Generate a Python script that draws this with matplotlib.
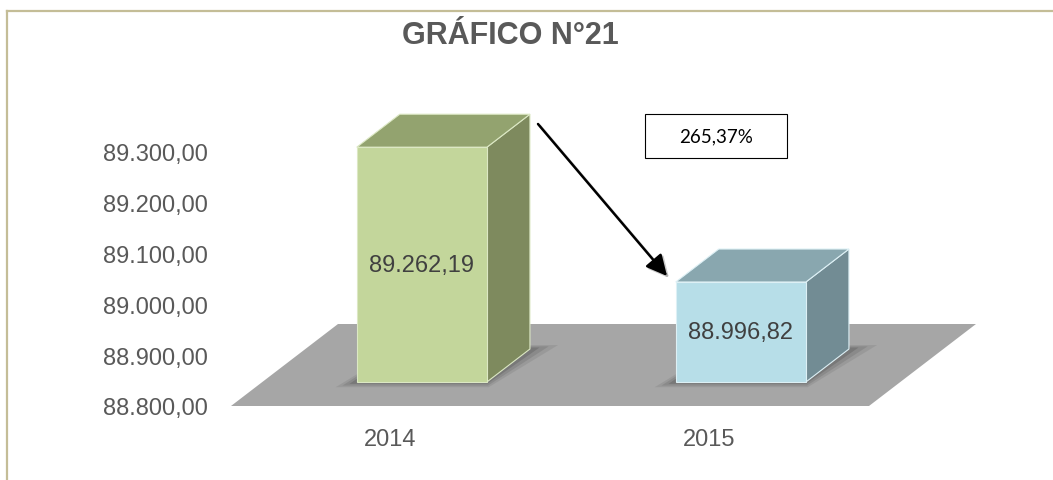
import matplotlib
matplotlib.use("Agg")
import matplotlib.pyplot as plt
from matplotlib.patches import Polygon, Rectangle
from matplotlib.lines import Line2D

# ---- data ----
categories = ['2014', '2015']
values = [89262.19, 88996.82]
value_labels = ['89.262,19', '88.996,82']
yticks = [88800, 88900, 89000, 89100, 89200, 89300]
ytick_labels = ['88.800,00', '88.900,00', '89.000,00', '89.100,00', '89.200,00', '89.300,00']
title = 'GRÁFICO N°21'
change_label = '265,37%'

# ---- styles ----
front_colors = ['#C3D69B', '#B7DEE8']
top_colors = ['#93A36F', '#89A7AF']
side_colors = ['#7E8A5E', '#728C94']
edge_colors = ['#DCE8C4', '#DDF0F5']
floor_color = '#A6A6A6'
text_gray = '#595959'

W, H = 1053, 481
fig = plt.figure(figsize=(W / 100, H / 100), dpi=100)
ax = fig.add_axes([231 / W, (H - 407) / H, 638 / W, 254 / H])
base = yticks[0]
ax.set_xlim(0, len(categories))
ax.set_ylim(base, yticks[-1])

# depth projection (in data units)
ddx = 107 / 319.0
ddy = 82 / (254 / 500.0)
d0, d1 = 0.293, 0.695
hw = 0.204


def P(x, d, v):
    return (x + d * ddx, v + d * ddy)


# floor
floor = Polygon([P(0, 0, base), P(2, 0, base), P(2, 1, base), P(0, 1, base)],
                closed=True, facecolor=floor_color, edgecolor='none', clip_on=False, zorder=1)
ax.add_patch(floor)

for i, (cat, v) in enumerate(zip(categories, values)):
    c = i + 0.5
    # soft shadow on the floor
    for k, (ex, ed, al) in enumerate([(0.045, 0.16, 0.10), (0.03, 0.11, 0.14), (0.015, 0.06, 0.2)]):
        sh = Polygon([P(c - hw - ex, d0 - ed * 0.4, base), P(c + hw + ex * 0.6, d0 - ed * 0.4, base),
                      P(c + hw + ex * 1.6, d1 + ed * 0.3, base), P(c - hw, d1 + ed * 0.3, base)],
                     closed=True, facecolor='#303030', edgecolor='none', alpha=al,
                     clip_on=False, zorder=2)
        ax.add_patch(sh)
    side = Polygon([P(c + hw, d0, base), P(c + hw, d1, base), P(c + hw, d1, v), P(c + hw, d0, v)],
                   closed=True, facecolor=side_colors[i], edgecolor=edge_colors[i], lw=0.8,
                   clip_on=False, zorder=3)
    top = Polygon([P(c - hw, d0, v), P(c + hw, d0, v), P(c + hw, d1, v), P(c - hw, d1, v)],
                  closed=True, facecolor=top_colors[i], edgecolor=edge_colors[i], lw=0.8,
                  clip_on=False, zorder=3)
    front = Polygon([P(c - hw, d0, base), P(c + hw, d0, base), P(c + hw, d0, v), P(c - hw, d0, v)],
                    closed=True, facecolor=front_colors[i], edgecolor=edge_colors[i], lw=0.8,
                    clip_on=False, zorder=4)
    ax.add_patch(side)
    ax.add_patch(top)
    ax.add_patch(front)
    cx, cy = P(c, d0, (base + v) / 2)
    ax.text(cx, cy, value_labels[i], ha='center', va='center', fontsize=17,
            family='Liberation Sans', color='#404040', zorder=5)

ax.set_xticks([i + 0.5 for i in range(len(categories))])
ax.set_xticklabels(categories)
ax.set_yticks(yticks)
ax.set_yticklabels(ytick_labels)
ax.tick_params(axis='y', length=0, pad=16.5, labelsize=17, labelcolor=text_gray)
ax.tick_params(axis='x', length=0, pad=16, labelsize=17, labelcolor=text_gray)
for lab in ax.get_xticklabels() + ax.get_yticklabels():
    lab.set_family('Liberation Sans')
for s in ax.spines.values():
    s.set_visible(False)
ax.patch.set_visible(False)

# title
fig.text(510 / W, 1 - 36 / H, title, ha='center', va='center', fontsize=22,
         fontweight='bold', family='Liberation Sans', color=text_gray)

# border
bc = '#C4BD97'
fig.add_artist(Line2D([7 / W, 1], [1 - 12 / H, 1 - 12 / H], color=bc, lw=1.6, transform=fig.transFigure))
fig.add_artist(Line2D([7 / W, 7 / W], [0, 1 - 12 / H], color=bc, lw=1.6, transform=fig.transFigure))

# percentage box
fig.add_artist(Rectangle((645 / W, 1 - 159 / H), 142 / W, 44 / H, transform=fig.transFigure,
                         facecolor='white', edgecolor='black', lw=0.8))
fig.text(716 / W, 1 - 137 / H, change_label, ha='center', va='center', fontsize=13.5,
         family=['Lato', 'DejaVu Sans'], color='black')

# arrow (with faint shadow)
ax.annotate('', xy=(669, H - 279), xytext=(540, H - 127), xycoords='figure pixels',
            textcoords='figure pixels',
            arrowprops=dict(arrowstyle='-|>,head_length=0.9,head_width=0.45', color='#999999',
                            lw=2.0, alpha=0.5, mutation_scale=14, shrinkA=0, shrinkB=0))
ax.annotate('', xy=(667, H - 277), xytext=(538, H - 125), xycoords='figure pixels',
            textcoords='figure pixels',
            arrowprops=dict(arrowstyle='-|>,head_length=0.9,head_width=0.45', color='black',
                            lw=1.8, mutation_scale=14, shrinkA=0, shrinkB=0))

fig.savefig('out.png', dpi=100)
